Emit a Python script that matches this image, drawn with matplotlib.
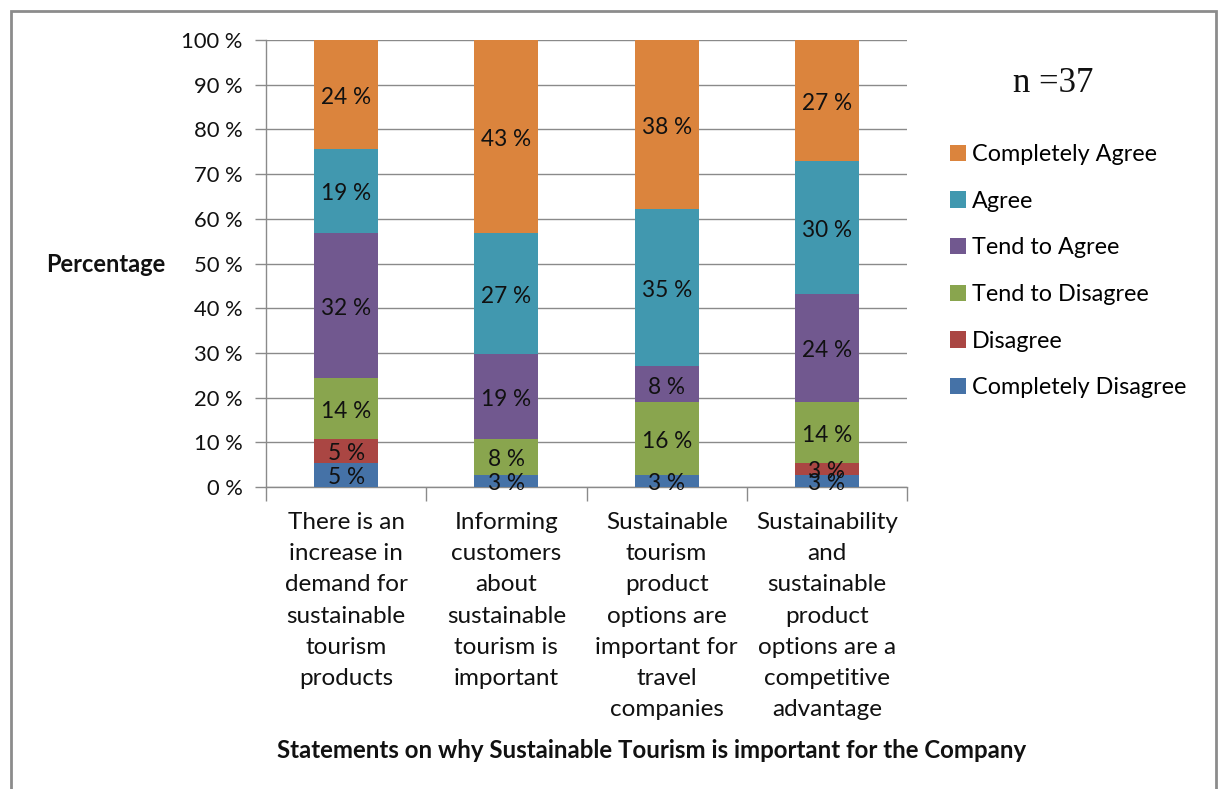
import matplotlib
matplotlib.use("Agg")
import matplotlib.pyplot as plt
import numpy as np
from matplotlib.patches import Rectangle

n_respondents = 37

statements = [
    "There is an\nincrease in\ndemand for\nsustainable\ntourism\nproducts",
    "Informing\ncustomers\nabout\nsustainable\ntourism is\nimportant",
    "Sustainable\ntourism\nproduct\noptions are\nimportant for\ntravel\ncompanies",
    "Sustainability\nand\nsustainable\nproduct\noptions are a\ncompetitive\nadvantage",
]

# answer counts per statement (out of 37), stacked bottom to top
completely_disagree = [2, 1, 1, 1]
disagree            = [2, 0, 0, 1]
tend_to_disagree    = [5, 3, 6, 5]
tend_to_agree       = [12, 7, 3, 9]
agree               = [7, 10, 13, 11]
completely_agree    = [9, 16, 14, 10]

series = [
    ("Completely Disagree", completely_disagree, "#4572A7"),
    ("Disagree",            disagree,            "#AA4643"),
    ("Tend to Disagree",    tend_to_disagree,    "#89A54E"),
    ("Tend to Agree",       tend_to_agree,       "#71588F"),
    ("Agree",               agree,               "#4198AF"),
    ("Completely Agree",    completely_agree,    "#DB843D"),
]

FONT = "Lato"
GRID = "#8a8a8a"
INK = "#111111"

W, H = 1223, 789
fig = plt.figure(figsize=(W / 100, H / 100), dpi=100)
fig.patch.set_facecolor("white")

# outer chart frame
fig.patches.append(Rectangle((11 / W, -0.05), (1216 - 11) / W, 1.05 - 11 / H,
                             transform=fig.transFigure, fill=False,
                             edgecolor="#8c8c8c", linewidth=2))

ax = fig.add_axes([266 / W, (H - 487) / H, (907 - 266) / W, (487 - 40) / H])

x = np.arange(len(statements))
bottom = np.zeros(len(statements))
handles = []
for name, counts, color in series:
    pct = np.array(counts) / n_respondents * 100
    bars = ax.bar(x, pct, width=0.4, bottom=bottom, color=color, label=name, zorder=3)
    handles.append(bars)
    for xi, b, v in zip(x, bottom, pct):
        if v > 0:
            ax.annotate(f"{v:.0f} %", (xi, b + v / 2), xytext=(0, -2),
                        textcoords="offset points", ha="center", va="center",
                        fontsize=16.3, family=FONT, color=INK, zorder=4)
    bottom += pct

ax.set_xlim(-0.5, len(statements) - 0.5)
ax.set_ylim(0, 100)
ax.set_yticks(np.arange(0, 101, 10))
ax.set_yticklabels([f"{v} %" for v in range(0, 101, 10)])
ax.yaxis.grid(True, color=GRID, linewidth=1, zorder=0)
ax.set_axisbelow(True)

ax.set_xticks(x)
ax.set_xticklabels(statements, linespacing=1.6)
ax.set_xticks(np.arange(-0.5, len(statements), 1), minor=True)
ax.tick_params(axis="x", which="major", length=0, pad=18)
ax.tick_params(axis="x", which="minor", length=10, width=1, color=GRID, direction="out")
ax.tick_params(axis="y", length=8, width=1, color=GRID, pad=9)
for lbl in ax.get_xticklabels():
    lbl.set_fontfamily(FONT)
    lbl.set_fontsize(17.5)
    lbl.set_color(INK)
for lbl in ax.get_yticklabels():
    lbl.set_fontfamily(FONT)
    lbl.set_fontsize(15.8)
    lbl.set_color(INK)

for side in ("top", "right"):
    ax.spines[side].set_visible(False)
for side in ("left", "bottom"):
    ax.spines[side].set_color(GRID)
    ax.spines[side].set_linewidth(1)

fig.text(106 / W, 1 - 265 / H, "Percentage", ha="center", va="center",
         fontsize=17, fontweight="bold", family=FONT, color=INK)
fig.text(652 / W, 1 - 750 / H,
         "Statements on why Sustainable Tourism is important for the Company",
         ha="center", va="center", fontsize=17.3, fontweight="bold", family=FONT,
         color=INK)
fig.text(1053 / W, 1 - 84 / H, f"n ={n_respondents}", ha="center", va="center",
         fontsize=25, family="Liberation Serif", color=INK)

fig.legend(handles[::-1], [s[0] for s in series][::-1],
           loc="upper left", bbox_to_anchor=(929 / W, 1 - 123 / H),
           frameon=False, handlelength=0.7, handleheight=0.7,
           handletextpad=0.25, labelspacing=1.1,
           prop={"family": FONT, "size": 16.8})

fig.savefig("out.png", dpi=100, facecolor="white")
